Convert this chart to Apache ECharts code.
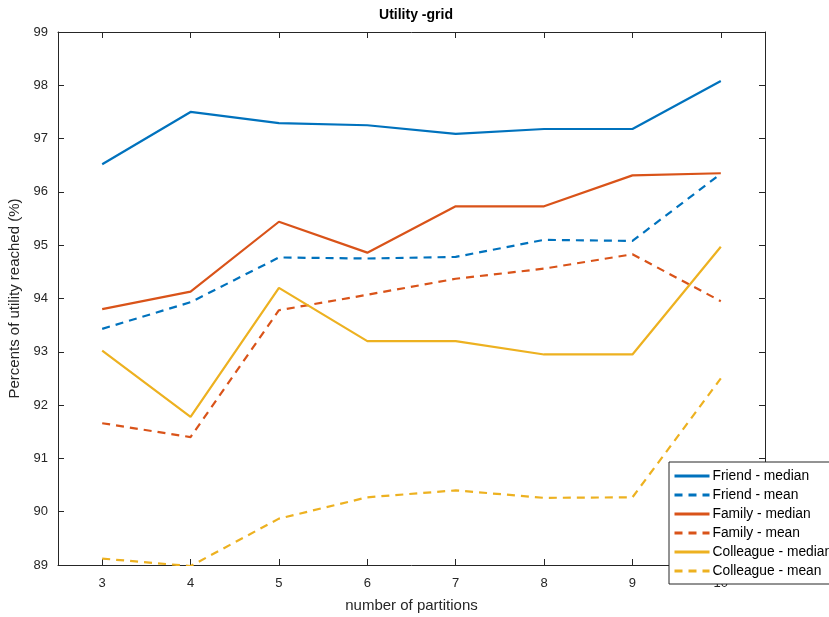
<!DOCTYPE html>
<html>
<head>
<meta charset="utf-8">
<script src="https://cdn.jsdelivr.net/npm/echarts@6/dist/echarts.min.js"></script>
<style>
  html, body { margin: 0; padding: 0; background: #fff; }
  #chart { width: 829px; height: 617px; }
</style>
</head>
<body>
<div id="chart"></div>
<script>
const partitions = [3, 4, 5, 6, 7, 8, 9, 10];
const xTicks = [3, 4, 5, 6, 7, 8, 9, 10];

const friendMedian = [96.52, 97.50, 97.29, 97.25, 97.09, 97.18, 97.18, 98.08];
const friendMean = [93.43, 93.93, 94.77, 94.75, 94.78, 95.10, 95.08, 96.34];
const familyMedian = [93.80, 94.13, 95.44, 94.86, 95.73, 95.73, 96.31, 96.35];
const familyMean = [91.66, 91.40, 93.78, 94.07, 94.37, 94.56, 94.83, 93.95];
const colleagueMedian = [93.02, 91.78, 94.20, 93.20, 93.20, 92.95, 92.95, 94.97];
const colleagueMean = [89.12, 88.98, 89.87, 90.27, 90.40, 90.26, 90.27, 92.50];

const BLUE = '#0072BD';
const ORANGE = '#D95319';
const YELLOW = '#EDB120';
const FONT = 'Liberation Sans';

function makeSeries(name, values, color, dashed) {
    return {
        name: name,
        type: 'line',
        data: partitions.map((p, i) => [p, values[i]]),
        symbol: 'none',
        itemStyle: { color: color },
        lineStyle: { color: color, width: 2.2, type: dashed ? [8, 6] : 'solid' },
        emphasis: { disabled: true },
        animation: false
    };
}

const chart = echarts.init(document.getElementById('chart'));

const tickStyle = { inside: true, length: 6, lineStyle: { color: '#262626' } };
const lineStyleAxis = { lineStyle: { color: '#262626', width: 1 } };

chart.setOption({
    animation: false,
    title: {
        text: 'Utility -grid',
        left: 411,
        textAlign: 'center',
        top: 3,
        textStyle: { fontFamily: FONT, fontSize: 14, fontWeight: 'bold', color: '#000' }
    },
    grid: { left: 58, right: 64, top: 32, bottom: 52, outerBoundsMode: 'none', containLabel: false },
    legend: {
        orient: 'vertical',
        left: 669,
        top: 462,
        itemWidth: 35,
        itemHeight: 12,
        itemGap: 5,
        padding: [7, 6, 6, 4],
        backgroundColor: '#fff',
        borderColor: '#262626',
        borderWidth: 1,
        borderRadius: 0,
        itemStyle: { opacity: 0 },
        lineStyle: { width: 3 },
        textStyle: { fontFamily: FONT, fontSize: 13.8, color: '#000', padding: [0, 0, 0, -2] },
        data: ['Friend - median', 'Friend - mean', 'Family - median', 'Family - mean',
               'Colleague - median', 'Colleague - mean']
    },
    xAxis: [
        {
            type: 'value',
            min: 2.5,
            max: 10.5,
            name: 'number of partitions',
            nameLocation: 'middle',
            nameGap: 33,
            nameTextStyle: { fontFamily: FONT, fontSize: 15, color: '#262626' },
            axisLine: lineStyleAxis,
            splitLine: { show: false },
            axisTick: Object.assign({ customValues: xTicks }, tickStyle),
            axisLabel: {
                fontFamily: FONT, fontSize: 13, color: '#262626', margin: 12,
                customValues: xTicks
            }
        },
        {
            type: 'value', position: 'top', min: 2.5, max: 10.5,
            axisLine: lineStyleAxis,
            splitLine: { show: false },
            axisTick: Object.assign({ customValues: xTicks }, tickStyle),
            axisLabel: { show: false }
        }
    ],
    yAxis: [
        {
            type: 'value',
            min: 89,
            max: 99,
            interval: 1,
            name: 'Percents of utility reached (%)',
            nameLocation: 'middle',
            nameGap: 28,
            nameTextStyle: { fontFamily: FONT, fontSize: 15, color: '#262626' },
            axisLine: lineStyleAxis,
            splitLine: { show: false },
            axisTick: tickStyle,
            axisLabel: { fontFamily: FONT, fontSize: 13, color: '#262626', margin: 10 }
        },
        {
            type: 'value', position: 'right', min: 89, max: 99, interval: 1,
            axisLine: lineStyleAxis,
            splitLine: { show: false },
            axisTick: tickStyle,
            axisLabel: { show: false }
        }
    ],
    series: [
        makeSeries('Friend - median', friendMedian, BLUE, false),
        makeSeries('Friend - mean', friendMean, BLUE, true),
        makeSeries('Family - median', familyMedian, ORANGE, false),
        makeSeries('Family - mean', familyMean, ORANGE, true),
        makeSeries('Colleague - median', colleagueMedian, YELLOW, false),
        makeSeries('Colleague - mean', colleagueMean, YELLOW, true)
    ]
});
</script>
</body>
</html>
